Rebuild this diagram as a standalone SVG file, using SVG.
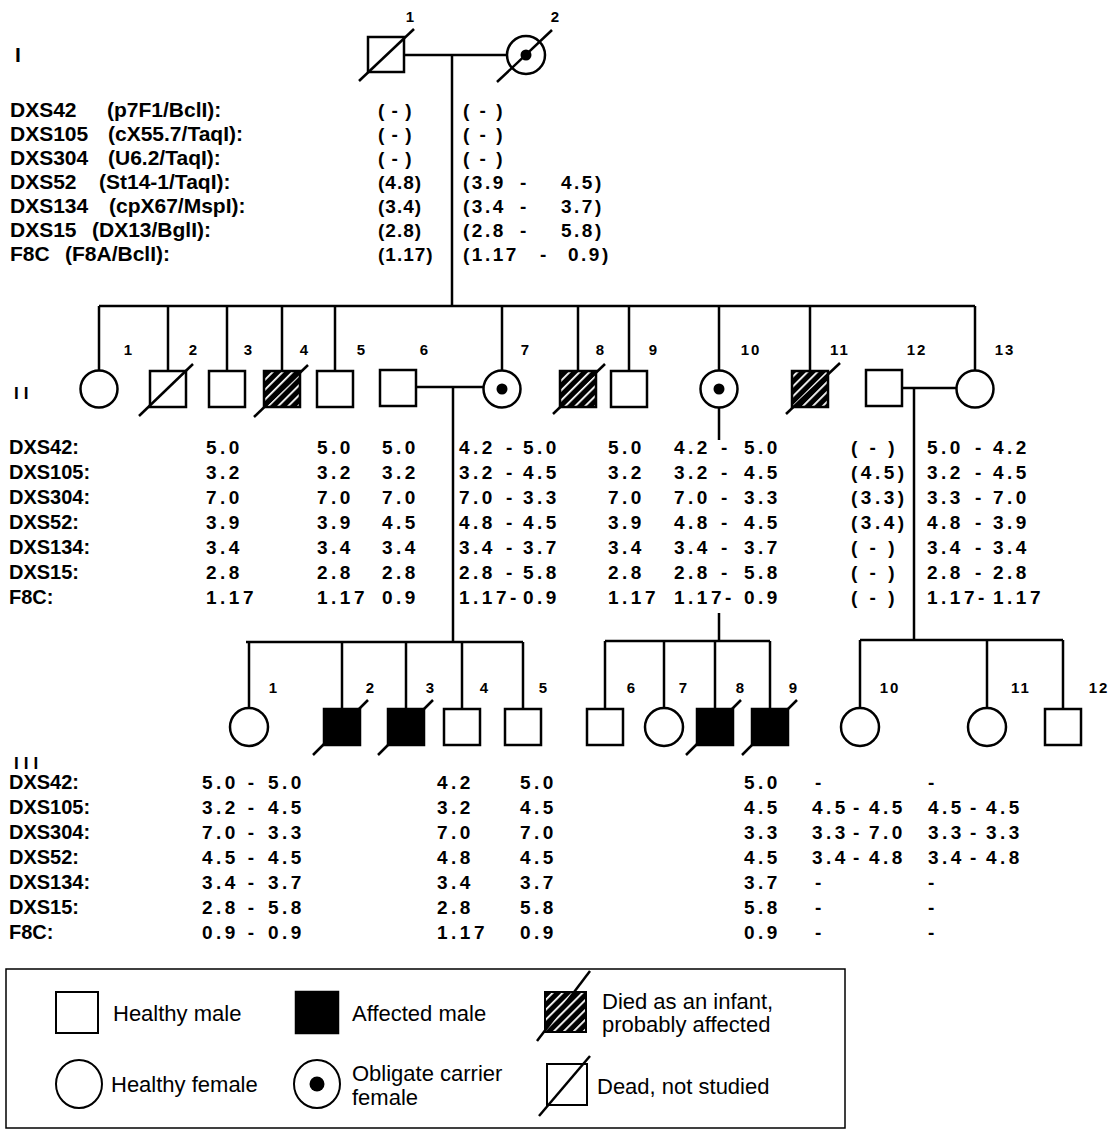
<svg xmlns="http://www.w3.org/2000/svg" width="1120" height="1131" viewBox="0 0 1120 1131">
<defs>
<pattern id="hatch" width="7" height="7" patternUnits="userSpaceOnUse" patternTransform="rotate(45)">
<rect width="7" height="7" fill="#000"/>
<rect x="0" y="0" width="1.8" height="7" fill="#fff"/>
</pattern>
<style>
.s{fill:#fff;stroke:#000;stroke-width:2.5}
.f{fill:#000;stroke:#000;stroke-width:2.5}
.h{fill:url(#hatch);stroke:#000;stroke-width:2.5}
.ln{stroke:#000;stroke-width:2.5;fill:none}
.dot{fill:#000}
text{font-family:"Liberation Sans",Arial,sans-serif;fill:#000}
.t{font-weight:bold;font-size:20px}
.t1{font-weight:bold;font-size:21px}
.v{font-weight:bold;font-size:19px;letter-spacing:3.5px}
.u{font-weight:bold;font-size:19px;letter-spacing:1px}
.w{font-weight:bold;font-size:19px;letter-spacing:2.5px}
.n{font-weight:bold;font-size:15px;letter-spacing:2px;text-anchor:middle}
.g{font-weight:bold;font-size:17px;letter-spacing:5px}
.lg{font-size:22px}
</style>
</defs>
<rect width="1120" height="1131" fill="#fff"/>

<g id="connectors" class="ln">
<line x1="404" y1="55" x2="507" y2="55"/>
<line x1="452" y1="55" x2="452" y2="306"/>
<line x1="99" y1="306" x2="975" y2="306"/>
<line x1="99" y1="306" x2="99" y2="371"/>
<line x1="168" y1="306" x2="168" y2="371"/>
<line x1="227" y1="306" x2="227" y2="371"/>
<line x1="282" y1="306" x2="282" y2="371"/>
<line x1="335" y1="306" x2="335" y2="371"/>
<line x1="502" y1="306" x2="502" y2="371"/>
<line x1="578" y1="306" x2="578" y2="371"/>
<line x1="629" y1="306" x2="629" y2="371"/>
<line x1="719" y1="306" x2="719" y2="371"/>
<line x1="810" y1="306" x2="810" y2="371"/>
<line x1="975" y1="306" x2="975" y2="371"/>
<line x1="416" y1="387" x2="484" y2="387"/>
<line x1="453" y1="387" x2="453" y2="642"/>
<line x1="902" y1="388" x2="957" y2="388"/>
<line x1="914" y1="388" x2="914" y2="640"/>
<line x1="719" y1="408" x2="719" y2="440"/>
<line x1="719" y1="613" x2="719" y2="641"/>
<line x1="246" y1="642" x2="523" y2="642"/>
<line x1="249" y1="642" x2="249" y2="708"/>
<line x1="342" y1="642" x2="342" y2="709"/>
<line x1="406" y1="642" x2="406" y2="709"/>
<line x1="462" y1="642" x2="462" y2="709"/>
<line x1="523" y1="642" x2="523" y2="709"/>
<line x1="605" y1="641" x2="770" y2="641"/>
<line x1="605" y1="641" x2="605" y2="709"/>
<line x1="664" y1="641" x2="664" y2="708"/>
<line x1="715" y1="641" x2="715" y2="709"/>
<line x1="770" y1="641" x2="770" y2="709"/>
<line x1="860" y1="640" x2="1063" y2="640"/>
<line x1="860" y1="640" x2="860" y2="708"/>
<line x1="987" y1="640" x2="987" y2="708"/>
<line x1="1063" y1="640" x2="1063" y2="709"/>
</g>

<text class="t1" x="15" y="62">I</text>
<text class="g" x="14" y="399">II</text>
<text class="g" x="14" y="769">III</text>

<g id="I-1"><rect class="s" x="368" y="37" width="36" height="35"/><line class="ln" x1="359" y1="81" x2="414" y2="29"/><text class="n" x="411" y="22">1</text></g>
<g id="I-2"><circle class="s" cx="526" cy="55" r="19"/><circle class="dot" cx="526" cy="55" r="5.5"/><line class="ln" x1="497" y1="82" x2="552" y2="30"/><text class="n" x="556" y="22">2</text></g>

<g id="gen1-data">
<text class="t1" x="10" y="117">DXS42</text><text class="t1" x="107" y="117">(p7F1/BclI):</text>
<text class="t1" x="10" y="141">DXS105</text><text class="t1" x="108" y="141">(cX55.7/TaqI):</text>
<text class="t1" x="10" y="165">DXS304</text><text class="t1" x="108" y="165">(U6.2/TaqI):</text>
<text class="t1" x="10" y="189">DXS52</text><text class="t1" x="99" y="189">(St14-1/TaqI):</text>
<text class="t1" x="10" y="213">DXS134</text><text class="t1" x="109" y="213">(cpX67/MspI):</text>
<text class="t1" x="10" y="237">DXS15</text><text class="t1" x="92" y="237">(DX13/BglI):</text>
<text class="t1" x="10" y="261">F8C</text><text class="t1" x="65" y="261">(F8A/BclI):</text>
<text class="u" x="378" y="117">( - )</text>
<text class="u" x="378" y="141">( - )</text>
<text class="u" x="378" y="165">( - )</text>
<text class="u" x="378" y="189">(4.8)</text>
<text class="u" x="378" y="213">(3.4)</text>
<text class="u" x="378" y="237">(2.8)</text>
<text class="u" x="378" y="261">(1.17)</text>
<text class="w" x="463" y="117">( - )</text>
<text class="w" x="463" y="141">( - )</text>
<text class="w" x="463" y="165">( - )</text>
<text class="w" y="189"><tspan x="463">(3.9</tspan><tspan x="520">-</tspan><tspan x="561">4.5)</tspan></text>
<text class="w" y="213"><tspan x="463">(3.4</tspan><tspan x="520">-</tspan><tspan x="561">3.7)</tspan></text>
<text class="w" y="237"><tspan x="463">(2.8</tspan><tspan x="520">-</tspan><tspan x="561">5.8)</tspan></text>
<text class="w" y="261"><tspan x="463">(1.17</tspan><tspan x="540">-</tspan><tspan x="568">0.9)</tspan></text>
</g>

<g id="II-1"><circle class="s" cx="99" cy="389" r="18.5"/><text class="n" x="129" y="355">1</text></g>
<g id="II-2"><rect class="s" x="150" y="371" width="36" height="36"/><line class="ln" x1="139" y1="416" x2="193" y2="364"/><text class="n" x="194" y="355">2</text></g>
<g id="II-3"><rect class="s" x="209" y="371" width="36" height="36"/><text class="n" x="249" y="355">3</text></g>
<g id="II-4"><rect class="h" x="264" y="371" width="36" height="36"/><line class="ln" x1="254" y1="417" x2="308" y2="365"/><text class="n" x="305" y="355">4</text></g>
<g id="II-5"><rect class="s" x="317" y="371" width="36" height="36"/><text class="n" x="362" y="355">5</text></g>
<g id="II-6"><rect class="s" x="380" y="370" width="36" height="36"/><text class="n" x="425" y="355">6</text></g>
<g id="II-7"><circle class="s" cx="502" cy="389" r="18.5"/><circle class="dot" cx="502" cy="389" r="5.5"/><text class="n" x="526" y="355">7</text></g>
<g id="II-8"><rect class="h" x="560" y="371" width="36" height="36"/><line class="ln" x1="553" y1="414" x2="605" y2="364"/><text class="n" x="601" y="355">8</text></g>
<g id="II-9"><rect class="s" x="611" y="371" width="36" height="36"/><text class="n" x="654" y="355">9</text></g>
<g id="II-10"><circle class="s" cx="719" cy="389" r="18.5"/><circle class="dot" cx="719" cy="389" r="5.5"/><text class="n" x="751" y="355">10</text></g>
<g id="II-11"><rect class="h" x="792" y="371" width="36" height="36"/><line class="ln" x1="786" y1="414" x2="840" y2="363"/><text class="n" x="840" y="355">11</text></g>
<g id="II-12"><rect class="s" x="866" y="370" width="36" height="36"/><text class="n" x="917" y="355">12</text></g>
<g id="II-13"><circle class="s" cx="975" cy="389" r="18.5"/><text class="n" x="1005" y="355">13</text></g>

<g id="gen2-data">
<text class="t" x="9" y="454">DXS42:</text>
<text class="t" x="9" y="479">DXS105:</text>
<text class="t" x="9" y="504">DXS304:</text>
<text class="t" x="9" y="529">DXS52:</text>
<text class="t" x="9" y="554">DXS134:</text>
<text class="t" x="9" y="579">DXS15:</text>
<text class="t" x="9" y="604">F8C:</text>
<g class="v">
<text x="206" y="454">5.0</text><text x="206" y="479">3.2</text><text x="206" y="504">7.0</text><text x="206" y="529">3.9</text><text x="206" y="554">3.4</text><text x="206" y="579">2.8</text><text x="206" y="604">1.17</text>
<text x="317" y="454">5.0</text><text x="317" y="479">3.2</text><text x="317" y="504">7.0</text><text x="317" y="529">3.9</text><text x="317" y="554">3.4</text><text x="317" y="579">2.8</text><text x="317" y="604">1.17</text>
<text x="382" y="454">5.0</text><text x="382" y="479">3.2</text><text x="382" y="504">7.0</text><text x="382" y="529">4.5</text><text x="382" y="554">3.4</text><text x="382" y="579">2.8</text><text x="382" y="604">0.9</text>
<text y="454"><tspan x="459">4.2</tspan><tspan x="506">-</tspan><tspan x="523">5.0</tspan></text>
<text y="479"><tspan x="459">3.2</tspan><tspan x="506">-</tspan><tspan x="523">4.5</tspan></text>
<text y="504"><tspan x="459">7.0</tspan><tspan x="506">-</tspan><tspan x="523">3.3</tspan></text>
<text y="529"><tspan x="459">4.8</tspan><tspan x="506">-</tspan><tspan x="523">4.5</tspan></text>
<text y="554"><tspan x="459">3.4</tspan><tspan x="506">-</tspan><tspan x="523">3.7</tspan></text>
<text y="579"><tspan x="459">2.8</tspan><tspan x="506">-</tspan><tspan x="523">5.8</tspan></text>
<text y="604"><tspan x="459">1.17-</tspan><tspan x="523">0.9</tspan></text>
<text x="608" y="454">5.0</text><text x="608" y="479">3.2</text><text x="608" y="504">7.0</text><text x="608" y="529">3.9</text><text x="608" y="554">3.4</text><text x="608" y="579">2.8</text><text x="608" y="604">1.17</text>
<text y="454"><tspan x="674">4.2</tspan><tspan x="721">-</tspan><tspan x="744">5.0</tspan></text>
<text y="479"><tspan x="674">3.2</tspan><tspan x="721">-</tspan><tspan x="744">4.5</tspan></text>
<text y="504"><tspan x="674">7.0</tspan><tspan x="721">-</tspan><tspan x="744">3.3</tspan></text>
<text y="529"><tspan x="674">4.8</tspan><tspan x="721">-</tspan><tspan x="744">4.5</tspan></text>
<text y="554"><tspan x="674">3.4</tspan><tspan x="721">-</tspan><tspan x="744">3.7</tspan></text>
<text y="579"><tspan x="674">2.8</tspan><tspan x="721">-</tspan><tspan x="744">5.8</tspan></text>
<text y="604"><tspan x="674">1.17-</tspan><tspan x="744">0.9</tspan></text>
<text x="851" y="454">( - )</text><text x="851" y="479">(4.5)</text><text x="851" y="504">(3.3)</text><text x="851" y="529">(3.4)</text><text x="851" y="554">( - )</text><text x="851" y="579">( - )</text><text x="851" y="604">( - )</text>
<text y="454"><tspan x="927">5.0</tspan><tspan x="975">-</tspan><tspan x="993">4.2</tspan></text>
<text y="479"><tspan x="927">3.2</tspan><tspan x="975">-</tspan><tspan x="993">4.5</tspan></text>
<text y="504"><tspan x="927">3.3</tspan><tspan x="975">-</tspan><tspan x="993">7.0</tspan></text>
<text y="529"><tspan x="927">4.8</tspan><tspan x="975">-</tspan><tspan x="993">3.9</tspan></text>
<text y="554"><tspan x="927">3.4</tspan><tspan x="975">-</tspan><tspan x="993">3.4</tspan></text>
<text y="579"><tspan x="927">2.8</tspan><tspan x="975">-</tspan><tspan x="993">2.8</tspan></text>
<text y="604"><tspan x="927">1.17-</tspan><tspan x="993">1.17</tspan></text>
</g>
</g>

<g id="III-1"><circle class="s" cx="249" cy="727" r="19"/><text class="n" x="274" y="693">1</text></g>
<g id="III-2"><rect class="f" x="324" y="709" width="36" height="36"/><line class="ln" x1="313" y1="755" x2="368" y2="700"/><text class="n" x="371" y="693">2</text></g>
<g id="III-3"><rect class="f" x="388" y="709" width="36" height="36"/><line class="ln" x1="378" y1="755" x2="433" y2="700"/><text class="n" x="431" y="693">3</text></g>
<g id="III-4"><rect class="s" x="444" y="709" width="36" height="36"/><text class="n" x="485" y="693">4</text></g>
<g id="III-5"><rect class="s" x="505" y="709" width="36" height="36"/><text class="n" x="544" y="693">5</text></g>
<g id="III-6"><rect class="s" x="587" y="709" width="36" height="36"/><text class="n" x="632" y="693">6</text></g>
<g id="III-7"><circle class="s" cx="664" cy="727" r="19"/><text class="n" x="684" y="693">7</text></g>
<g id="III-8"><rect class="f" x="697" y="709" width="36" height="36"/><line class="ln" x1="686" y1="755" x2="741" y2="700"/><text class="n" x="741" y="693">8</text></g>
<g id="III-9"><rect class="f" x="752" y="709" width="36" height="36"/><line class="ln" x1="742" y1="755" x2="797" y2="700"/><text class="n" x="794" y="693">9</text></g>
<g id="III-10"><circle class="s" cx="860" cy="727" r="19"/><text class="n" x="890" y="693">10</text></g>
<g id="III-11"><circle class="s" cx="987" cy="727" r="19"/><text class="n" x="1021" y="693">11</text></g>
<g id="III-12"><rect class="s" x="1045" y="709" width="36" height="36"/><text class="n" x="1099" y="693">12</text></g>

<g id="gen3-data">
<text class="t" x="9" y="789">DXS42:</text>
<text class="t" x="9" y="814">DXS105:</text>
<text class="t" x="9" y="839">DXS304:</text>
<text class="t" x="9" y="864">DXS52:</text>
<text class="t" x="9" y="889">DXS134:</text>
<text class="t" x="9" y="914">DXS15:</text>
<text class="t" x="9" y="939">F8C:</text>
<g class="v">
<text y="789"><tspan x="202">5.0 -</tspan><tspan x="268">5.0</tspan></text>
<text y="814"><tspan x="202">3.2 -</tspan><tspan x="268">4.5</tspan></text>
<text y="839"><tspan x="202">7.0 -</tspan><tspan x="268">3.3</tspan></text>
<text y="864"><tspan x="202">4.5 -</tspan><tspan x="268">4.5</tspan></text>
<text y="889"><tspan x="202">3.4 -</tspan><tspan x="268">3.7</tspan></text>
<text y="914"><tspan x="202">2.8 -</tspan><tspan x="268">5.8</tspan></text>
<text y="939"><tspan x="202">0.9 -</tspan><tspan x="268">0.9</tspan></text>
<text x="437" y="789">4.2</text><text x="437" y="814">3.2</text><text x="437" y="839">7.0</text><text x="437" y="864">4.8</text><text x="437" y="889">3.4</text><text x="437" y="914">2.8</text><text x="437" y="939">1.17</text>
<text x="520" y="789">5.0</text><text x="520" y="814">4.5</text><text x="520" y="839">7.0</text><text x="520" y="864">4.5</text><text x="520" y="889">3.7</text><text x="520" y="914">5.8</text><text x="520" y="939">0.9</text>
<text x="744" y="789">5.0</text><text x="744" y="814">4.5</text><text x="744" y="839">3.3</text><text x="744" y="864">4.5</text><text x="744" y="889">3.7</text><text x="744" y="914">5.8</text><text x="744" y="939">0.9</text>
<text x="815" y="789">-</text>
<text y="814"><tspan x="812">4.5</tspan><tspan x="853">-</tspan><tspan x="869">4.5</tspan></text>
<text y="839"><tspan x="812">3.3</tspan><tspan x="853">-</tspan><tspan x="869">7.0</tspan></text>
<text y="864"><tspan x="812">3.4</tspan><tspan x="853">-</tspan><tspan x="869">4.8</tspan></text>
<text x="815" y="889">-</text><text x="815" y="914">-</text><text x="815" y="939">-</text>
<text x="928" y="789">-</text>
<text y="814"><tspan x="928">4.5</tspan><tspan x="970">-</tspan><tspan x="986">4.5</tspan></text>
<text y="839"><tspan x="928">3.3</tspan><tspan x="970">-</tspan><tspan x="986">3.3</tspan></text>
<text y="864"><tspan x="928">3.4</tspan><tspan x="970">-</tspan><tspan x="986">4.8</tspan></text>
<text x="928" y="889">-</text><text x="928" y="914">-</text><text x="928" y="939">-</text>
</g>
</g>

<g id="legend">
<rect x="6" y="969" width="839" height="159" fill="none" stroke="#000" stroke-width="1.5"/>
<g id="lg-healthy-male"><rect class="s" x="56" y="992" width="42" height="41" style="stroke-width:2"/><text class="lg" x="113" y="1021">Healthy male</text></g>
<g id="lg-affected-male"><rect class="f" x="296" y="992" width="42" height="41"/><text class="lg" x="352" y="1021">Affected male</text></g>
<g id="lg-died-infant"><rect class="h" x="545" y="992" width="41" height="40" style="stroke-width:2"/><line class="ln" x1="537" y1="1041" x2="590" y2="971"/><text class="lg" x="602" y="1009">Died as an infant,</text><text class="lg" x="602" y="1032">probably affected</text></g>
<g id="lg-healthy-female"><ellipse class="s" cx="79" cy="1084" rx="23" ry="24" style="stroke-width:2"/><text class="lg" x="111" y="1092">Healthy female</text></g>
<g id="lg-carrier"><ellipse class="s" cx="317" cy="1084" rx="23" ry="24" style="stroke-width:2"/><circle class="dot" cx="317" cy="1084" r="7.5"/><text class="lg" x="352" y="1081">Obligate carrier</text><text class="lg" x="352" y="1105">female</text></g>
<g id="lg-dead"><rect class="s" x="547" y="1064" width="40" height="41" style="stroke-width:2"/><line class="ln" x1="539" y1="1116" x2="590" y2="1056"/><text class="lg" x="597" y="1094">Dead, not studied</text></g>
</g>
</svg>
